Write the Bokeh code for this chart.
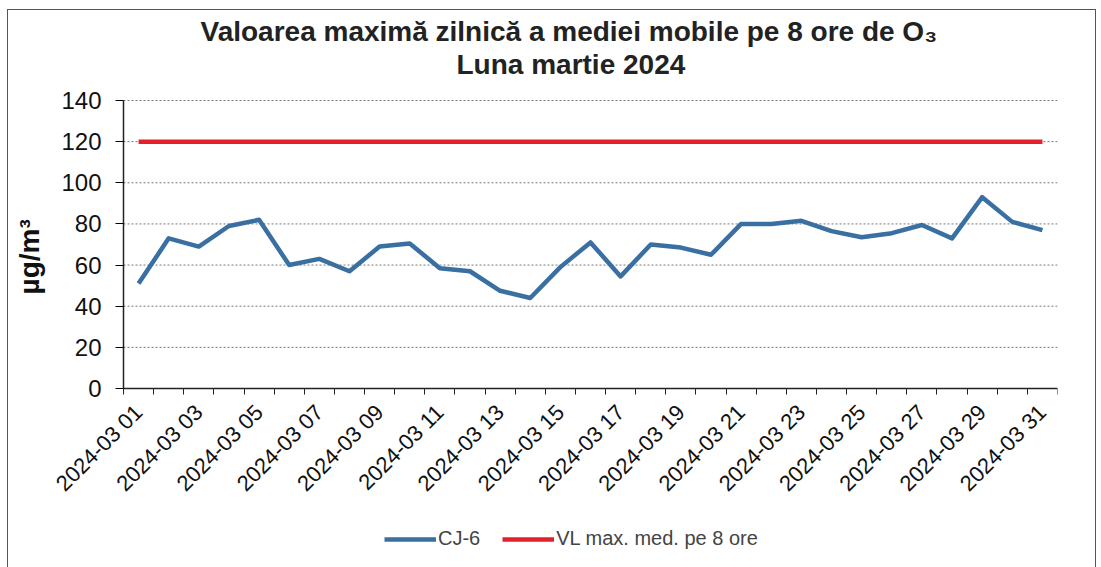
import math
from bokeh.plotting import figure
from bokeh.models import (Title, FixedTicker, Legend, LegendItem, ColumnDataSource, Range1d, Label)
from bokeh.embed import file_html
from bokeh.resources import INLINE

days = list(range(1, 32))
day_labels = ["2024-03 %02d" % d for d in days]
cj6 = [51, 73, 69, 79, 82, 60, 63, 57, 69, 70.5, 58.5, 57, 47.5, 44, 59, 71, 54.5, 70, 68.5, 65,
       80, 80, 81.5, 76.5, 73.5, 75.5, 79.5, 73, 93, 81, 77]
vl = [120] * 31
y_ticks = [0, 20, 40, 60, 80, 100, 120, 140]
title_main = "Valoarea maximă zilnică a mediei mobile pe 8 ore de O₃"
title_sub = "Luna martie 2024"
y_label = "µg/m³"
series_names = ["CJ-6", "VL max. med. pe 8 ore"]

FONT = "Liberation Sans"
Y_MAX = y_ticks[-1]
N = len(days)

# layout (pixels). The plotting frame is extended to the left, upwards and
# downwards so that axis labels and the legend (drawn inside it) are not clipped.
W, H = 1089, 560
M_RIGHT, M_TOP, M_BOTTOM = 40, 69, 10
AXIS_X_PX = 115          # position of the y axis inside the figure
DATA_PX_Y = 288          # pixel height of 0..140
HEAD_PX = 21             # free pixels above 140 inside the frame
frame_h = H - M_TOP - M_BOTTOM
frame_w = W - M_RIGHT
px_per_x = (frame_w - AXIS_X_PX) / N
px_per_y = DATA_PX_Y / Y_MAX
x_start = 0.5 - AXIS_X_PX / px_per_x
y_end = Y_MAX + HEAD_PX / px_per_y
y_start = y_end - frame_h / px_per_y

p = figure(width=W, height=H, output_backend="svg", toolbar_location=None,
           x_range=Range1d(x_start, N + 0.5), y_range=Range1d(y_start, y_end),
           min_border_left=0, min_border_right=M_RIGHT, min_border_top=M_TOP,
           min_border_bottom=M_BOTTOM)
p.styles = {"border": "1px solid #555", "margin-left": "7px", "margin-top": "9px"}

p.add_layout(Title(text=title_sub, align="left", offset=448, text_font=FONT, text_font_size="28px",
                   text_font_style="bold", text_color="#222", standoff=0), "above")
p.add_layout(Title(text=title_main, align="left", offset=192, text_font=FONT, text_font_size="28px",
                   text_font_style="bold", text_color="#222", standoff=0), "above")

# dashed horizontal grid lines spanning the category area only
grid_src = ColumnDataSource(dict(y=y_ticks, x0=[0.5] * len(y_ticks), x1=[N + 0.5] * len(y_ticks)))
p.segment(x0="x0", x1="x1", y0="y", y1="y", source=grid_src,
          line_color="#777", line_dash="2 2", line_width=1)

src = ColumnDataSource(dict(x=days, cj6=cj6, vl=vl))
r_vl = p.line("x", "vl", source=src, line_color="#e3202b", line_width=4.5)
r_cj = p.line("x", "cj6", source=src, line_color="#3a6fa2", line_width=4.5, line_join="round")

# x axis, drawn at y = 0
xa = p.xaxis[0]
xa.fixed_location = 0
xa.bounds = (0.5, N + 0.5)
xa.ticker = FixedTicker(ticks=days[::2], minor_ticks=[d + 0.5 for d in range(0, N + 1)])
xa.major_label_overrides = {d: lab for d, lab in zip(days, day_labels)}
xa.major_label_orientation = 0.785
xa.major_label_text_font = FONT
xa.major_label_text_font_size = "22px"
xa.major_label_text_color = "#111"
xa.major_label_standoff = 14
xa.major_tick_out = 0
xa.major_tick_in = 0
xa.minor_tick_out = 6
xa.minor_tick_in = 0
xa.minor_tick_line_color = "#222"
xa.axis_line_color = "#222"
xa.axis_line_width = 1.5

# y axis, drawn at x = 0.5
ya = p.yaxis[0]
ya.fixed_location = 0.5
ya.bounds = (0, Y_MAX)
ya.ticker = FixedTicker(ticks=y_ticks)
ya.major_label_text_font = FONT
ya.major_label_text_font_size = "24px"
ya.major_label_text_color = "#111"
ya.major_label_standoff = 14
ya.major_tick_out = 8
ya.major_tick_in = 0
ya.minor_tick_out = 0
ya.minor_tick_in = 0
ya.axis_line_color = "#222"
ya.axis_line_width = 1.5

# y axis title
p.add_layout(Label(x=0.5 - (AXIS_X_PX - 21) / px_per_x, y=64, text=y_label, angle=math.pi / 2,
                   text_font=FONT, text_font_size="28px", text_font_style="bold",
                   text_color="#111", text_align="center", text_baseline="middle"))

p.xgrid.grid_line_color = None
p.ygrid.grid_line_color = None
p.outline_line_color = None

legend = Legend(items=[LegendItem(label=series_names[0], renderers=[r_cj]),
                       LegendItem(label=series_names[1], renderers=[r_vl])],
                orientation="horizontal", location=(AXIS_X_PX + 261, 10),
                label_text_font=FONT, label_text_font_size="20px",
                border_line_color=None, background_fill_alpha=0,
                glyph_width=52, spacing=22, padding=4, margin=0, label_standoff=2)
p.add_layout(legend, "center")

open("out.html", "w").write(file_html(p, INLINE))
